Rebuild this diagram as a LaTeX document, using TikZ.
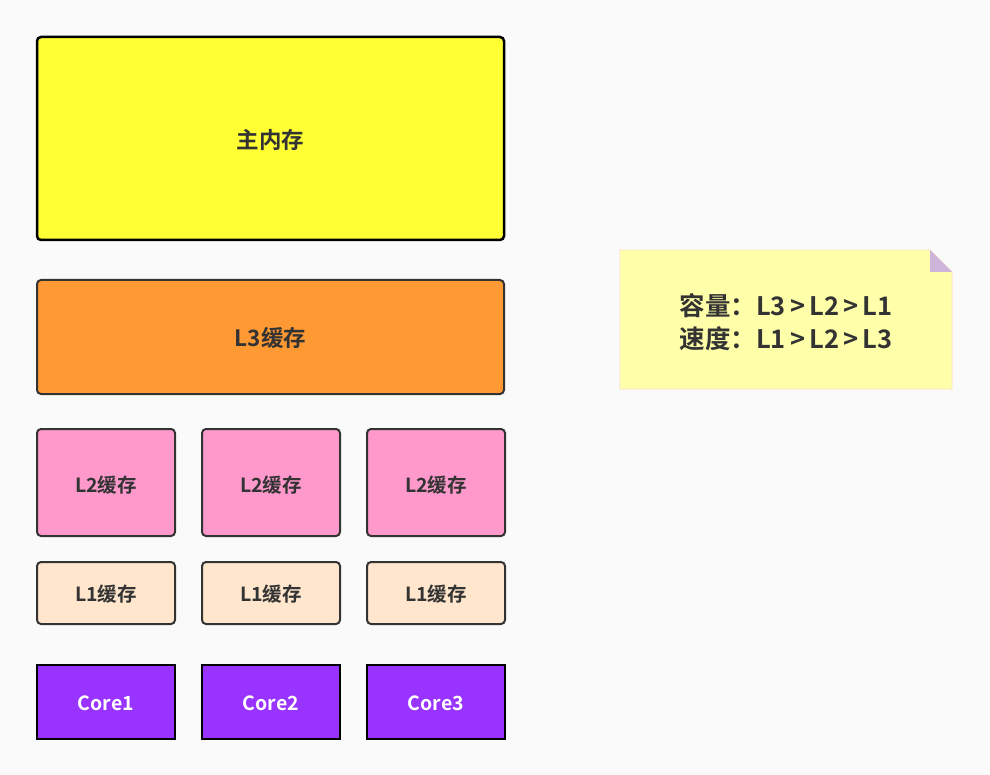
\documentclass[tikz,border=0pt]{standalone}
\usepackage{fontspec}
\setmainfont{Noto Sans CJK SC}[BoldFont={* Bold}]
\definecolor{bg}{HTML}{FAFAFA}
\definecolor{txt}{HTML}{333333}
\definecolor{memfill}{HTML}{FFFF33}
\definecolor{lthree}{HTML}{FF9933}
\definecolor{ltwo}{HTML}{FF99CC}
\definecolor{lone}{HTML}{FFE6CC}
\definecolor{corefill}{HTML}{9933FF}
\definecolor{notefill}{HTML}{FFFFAA}
\definecolor{noteline}{HTML}{FFE0C0}
\definecolor{fold}{HTML}{CDB4DB}
\begin{document}
\begin{tikzpicture}[x=1pt,y=-1pt,
  box/.style={draw=txt,line width=2pt,rounded corners=4pt,inner sep=0pt,text=txt,font=\bfseries\fontsize{19.5}{22}\selectfont},
  bigbox/.style={box,font=\bfseries\fontsize{22.5}{26}\selectfont},
  corebox/.style={draw=black,line width=2.5pt,fill=corefill,inner sep=0pt},
  notetext/.style={text=txt,font=\bfseries\fontsize{25.5}{33}\selectfont,align=center}]
\fill[bg] (0,0) rectangle (990,775);
\useasboundingbox (0,0) rectangle (990,775);
% main memory
\draw[bigbox,draw=black,line width=2.5pt,fill=memfill] (37,37) rectangle (504,240);
\node[bigbox,draw=none] (mem) at (270.5,140) {主内存};
% L3
\draw[bigbox,fill=lthree] (37,280) rectangle (504,394);
\node[bigbox,draw=none] (l3) at (270.5,338) {L3缓存};
% L2, L1, cores
\foreach \i/\x in {1/37,2/202,3/367}{
  \draw[box,fill=ltwo] (\x,429) rectangle ++(138,107);
  \node[box,draw=none] (l2\i) at (\x+69,485) {L2缓存};
  \draw[box,fill=lone] (\x,562) rectangle ++(138,62);
  \node[box,draw=none] (l1\i) at (\x+69,594) {L1缓存};
  \draw[corebox] (\x,665) rectangle ++(138,74);
  \node[text=white,font=\bfseries\fontsize{19.5}{22}\selectfont] (core\i) at (\x+69,703) {Core\i};
}
% note
\draw[fill=notefill,draw=noteline,line width=0.8pt] (620,250) -- (930,250) -- (952,272) -- (952,389) -- (620,389) -- cycle;
\fill[fold] (930,250) -- (930,272) -- (952,272) -- cycle;
\node[notetext] (note) at (786,322) {容量：L3\,>\,L2\,>\,L1\\速度：L1\,>\,L2\,>\,L3};
\end{tikzpicture}
\end{document}
